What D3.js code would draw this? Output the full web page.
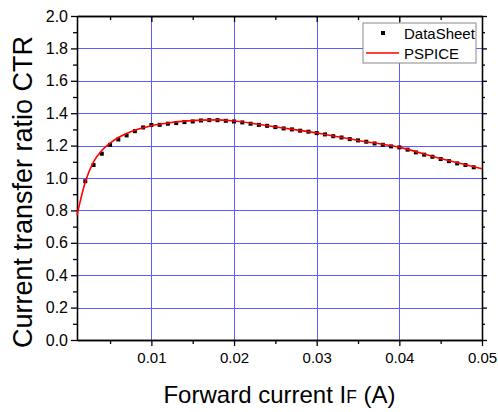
<!DOCTYPE html>
<html><head><meta charset="utf-8">
<script src="https://cdn.jsdelivr.net/npm/d3@7"></script>
<style>body{margin:0;background:#fff}svg{display:block}text{font-family:Arial,"Liberation Sans",sans-serif}</style>
</head><body>
<script>
const dsX = [0.002,0.003,0.004,0.005,0.006,0.007,0.008,0.009,0.010,0.011,0.012,0.013,0.014,0.015,0.016,0.017,0.018,0.019,0.020,0.021,0.022,0.023,0.024,0.025,0.026,0.027,0.028,0.029,0.030,0.031,0.032,0.033,0.034,0.035,0.036,0.037,0.038,0.039,0.040,0.041,0.042,0.043,0.044,0.045,0.046,0.047,0.048,0.049];
const dsY = [0.98,1.08,1.15,1.205,1.238,1.263,1.289,1.312,1.327,1.328,1.335,1.339,1.345,1.349,1.355,1.357,1.357,1.353,1.349,1.343,1.335,1.328,1.322,1.314,1.306,1.300,1.292,1.286,1.277,1.269,1.258,1.250,1.240,1.232,1.224,1.213,1.205,1.195,1.189,1.175,1.158,1.144,1.131,1.117,1.104,1.090,1.080,1.066];
const spX = [0.001,0.002,0.003,0.004,0.005,0.006,0.007,0.008,0.009,0.010,0.012,0.014,0.016,0.018,0.020,0.025,0.030,0.035,0.040,0.045,0.050];
const spY = [0.77,0.975,1.10,1.17,1.215,1.25,1.275,1.295,1.31,1.323,1.34,1.351,1.357,1.359,1.352,1.315,1.278,1.232,1.189,1.12,1.057];
const xMajor = [0.01,0.02,0.03,0.04,0.05];
const xMinor = [0.005,0.015,0.025,0.035,0.045];
const yMajor = [0.0,0.2,0.4,0.6,0.8,1.0,1.2,1.4,1.6,1.8,2.0];
const yMinor = [0.1,0.3,0.5,0.7,0.9,1.1,1.3,1.5,1.7,1.9];
const seriesNames = ["DataSheet","PSPICE"];

const W=498,H=412, L=77, R=482, T=16, B=340;
const svg=d3.select("body").append("svg").attr("width",W).attr("height",H);
const x=d3.scaleLinear().domain([0.001,0.05]).range([L,R]);
const y=d3.scaleLinear().domain([0,2]).range([B,T]);

// grid
const grid=svg.append("g").attr("stroke","#5c5cff").attr("stroke-width",1);
xMajor.filter(v=>v<0.05).forEach(v=>grid.append("line").attr("x1",Math.round(x(v))+0.5).attr("x2",Math.round(x(v))+0.5).attr("y1",T).attr("y2",B));
yMajor.filter(v=>v>0&&v<2).forEach(v=>grid.append("line").attr("y1",Math.round(y(v))+0.5).attr("y2",Math.round(y(v))+0.5).attr("x1",L).attr("x2",R));

// axes
const fmt=d3.format(".2f"), fmtY=d3.format(".1f");
const gBot=svg.append("g").attr("transform",`translate(0,${B})`).call(d3.axisBottom(x).tickValues(xMajor).tickFormat(fmt).tickSize(6).tickSizeOuter(0));
const gBotm=svg.append("g").attr("transform",`translate(0,${B})`).call(d3.axisBottom(x).tickValues(xMinor).tickFormat("").tickSize(4).tickSizeOuter(0));
const gTop=svg.append("g").attr("transform",`translate(0,${T})`).call(d3.axisBottom(x).tickValues(xMajor.filter(v=>v<0.05)).tickFormat("").tickSize(6).tickSizeOuter(0));
const gTopm=svg.append("g").attr("transform",`translate(0,${T})`).call(d3.axisBottom(x).tickValues(xMinor).tickFormat("").tickSize(4).tickSizeOuter(0));
const gLef=svg.append("g").attr("transform",`translate(${L},0)`).call(d3.axisLeft(y).tickValues(yMajor).tickFormat(fmtY).tickSize(6).tickSizeOuter(0));
const gLefm=svg.append("g").attr("transform",`translate(${L},0)`).call(d3.axisLeft(y).tickValues(yMinor).tickFormat("").tickSize(4).tickSizeOuter(0));
const gRig=svg.append("g").attr("transform",`translate(${R},0)`).call(d3.axisRight(y).tickValues(yMajor).tickFormat("").tickSize(5).tickSizeOuter(0));
const gRigm=svg.append("g").attr("transform",`translate(${R},0)`).call(d3.axisRight(y).tickValues(yMinor).tickFormat("").tickSize(3).tickSizeOuter(0));
[gBot,gBotm,gTop,gTopm,gLef,gLefm,gRig,gRigm].forEach(g=>{g.selectAll("path,line").attr("stroke","#000").attr("stroke-width",1.3);});
gBot.selectAll("text").attr("font-size",15).attr("fill","#000").attr("dy","0.95em");
gLef.selectAll("text").attr("font-size",16).attr("fill","#000").attr("x",-9);

// datasheet points
svg.append("g").selectAll("rect").data(dsX).join("rect")
  .attr("x",(d)=>x(d)-2).attr("y",(d,i)=>y(dsY[i])-2).attr("width",4).attr("height",4).attr("fill","#000");

// PSPICE line
const line=d3.line().x(d=>x(d[0])).y(d=>y(d[1])).curve(d3.curveMonotoneX);
svg.append("path").datum(spX.map((v,i)=>[v,spY[i]])).attr("d",line).attr("fill","none").attr("stroke","#ff0000").attr("stroke-width",1.6);

// legend
const lg=svg.append("g");
lg.append("rect").attr("x",363).attr("y",23).attr("width",113).attr("height",40).attr("fill","#fff").attr("stroke","#888").attr("stroke-width",1);
lg.append("rect").attr("x",381).attr("y",31).attr("width",4).attr("height",4).attr("fill","#000");
lg.append("line").attr("x1",366).attr("x2",399).attr("y1",53).attr("y2",53).attr("stroke","#ff0000").attr("stroke-width",1.6);
lg.append("text").attr("x",404).attr("y",39).attr("font-size",15).text(seriesNames[0]);
lg.append("text").attr("x",404).attr("y",59).attr("font-size",15).text(seriesNames[1]);

// titles
svg.append("text").attr("transform",`translate(32,${(T+B)/2+14}) rotate(-90)`).attr("text-anchor","middle").attr("font-size",27).text("Current transfer ratio CTR");
const xt=svg.append("text").attr("x",(L+R)/2).attr("y",403).attr("text-anchor","middle").attr("font-size",24);
xt.append("tspan").text("Forward current I");
xt.append("tspan").attr("font-size",17.5).text("F");
xt.append("tspan").text(" (A)");
</script>
</body></html>
